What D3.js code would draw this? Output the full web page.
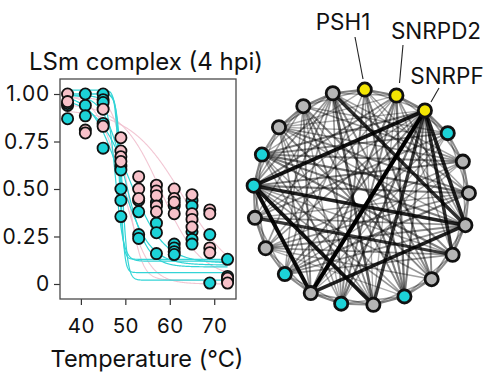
<!DOCTYPE html>
<html><head><meta charset="utf-8">
<script src="https://cdn.jsdelivr.net/npm/d3@7"></script>
<style>
html,body{margin:0;padding:0;background:#fff;}
text{font-family:Inter,"Noto Sans",sans-serif;fill:#111;}
</style></head>
<body><svg id="c" width="488" height="383"></svg>
<script>
// ---------- data ----------
const title = "LSm complex (4 hpi)";
const xTitle = "Temperature (°C)";
const temps = [37, 41, 45, 49, 53, 57, 61, 65, 69, 73];
const xTicks = [40, 50, 60, 70];
const yTicks = [0, 0.25, 0.5, 0.75, 1];
const yTickLabels = ["0", "0.25", "0.50", "0.75", "1.00"];
// measured points per temperature column
const cyanValues = [
  [0.94, 0.87, 0.95],
  [1.00, 0.94, 0.885],
  [1.00, 0.97, 0.955, 0.845, 0.715],
  [0.62, 0.60, 0.50, 0.44, 0.355],
  [0.44, 0.38, 0.26, 0.24],
  [0.43, 0.32, 0.27, 0.16],
  [0.41, 0.21, 0.19, 0.17, 0.155],
  [0.44, 0.41, 0.275, 0.235, 0.21],
  [0.26, 0.005],
  [0.13, 0.04, 0.02]
];
const pinkValues = [
  [1.00, 0.96],
  [0.81, 0.795],
  [0.92, 0.83],
  [0.77, 0.70, 0.67, 0.645],
  [0.565, 0.50, 0.45],
  [0.52, 0.49, 0.465, 0.41, 0.38],
  [0.50, 0.45, 0.43, 0.37],
  [0.47, 0.37, 0.34, 0.30],
  [0.39, 0.37, 0.19, 0.165],
  [0.03, 0.005]
];
// melting-curve fit parameters: [top, bottom, Tm, slope]
const cyanFits = [
  [1.02, 0.13, 48.6, 0.45],
  [1.00, 0.06, 48.9, 0.45],
  [1.00, 0.02, 49.3, 0.6],
  [1.00, 0.10, 49.0, 3.2],
  [1.00, 0.09, 50.0, 2.4],
  [0.98, 0.11, 51.0, 3.8],
  [0.99, 0.12, 47.8, 0.9]
];
const pinkFits = [
  [1.00, 0.00, 49.5, 2.8],
  [0.98, 0.02, 50.5, 1.5],
  [0.92, 0.00, 63.0, 6.0],
  [0.95, 0.03, 58.0, 4.5]
];
// network
const nodeNames = ["PSH1","SNRPD2","SNRPF","","","","","","","","","","","","","","","","","",""];
const nodeGroups = ["y","y","y","c","g","g","g","g","g","c","g","c","g","c","g","g","c","c","g","g","g"];
const labelled = ["PSH1","SNRPD2","SNRPF"];
// edges: [source, target, weight]
const edges = [
  [0,1,0.45],[1,2,0.45],[2,3,0.45],[3,4,0.4],[4,5,0.45],[5,6,0.4],[6,7,0.45],[7,8,0.4],[8,9,0.4],[9,10,0.45],
  [10,11,0.4],[11,12,0.45],[12,13,0.4],[13,14,0.4],[14,15,0.45],[15,16,0.4],[16,17,0.45],[17,18,0.4],[18,19,0.45],[19,20,0.45],[20,0,0.45],
  [0,2,0.3],[1,3,0.3],[2,4,0.35],[3,5,0.3],[4,6,0.3],[5,7,0.3],[6,8,0.35],[7,9,0.3],[8,10,0.3],[9,11,0.3],[10,12,0.35],
  [11,13,0.3],[12,14,0.3],[13,15,0.3],[14,16,0.35],[15,17,0.3],[16,18,0.3],[17,19,0.3],[18,20,0.35],[19,0,0.3],[20,1,0.3],
  [0,8,0.45],[0,11,0.4],[0,13,0.3],[0,9,0.45],[0,10,0.25],[0,5,0.3],[0,6,0.2],[0,17,0.25],
  [1,9,0.5],[1,12,0.45],[1,14,0.3],[1,11,0.4],[1,10,0.25],[1,6,0.35],[1,7,0.3],[1,15,0.25],[1,16,0.4],[1,18,0.25],
  [2,12,1.0],[2,16,0.9],[2,10,0.75],[2,7,0.8],[2,6,0.85],[2,13,0.4],[2,14,0.35],[2,15,0.3],[2,11,0.5],[2,9,0.45],[2,8,0.4],[2,17,0.45],[2,18,0.25],
  [3,15,0.35],[3,13,0.3],[3,17,0.4],[3,12,0.25],[3,11,0.25],[3,18,0.25],[3,19,0.3],
  [4,16,0.45],[4,18,0.35],[4,14,0.3],[4,12,0.25],[4,13,0.3],[4,17,0.4],[4,19,0.35],[4,20,0.3],
  [5,17,0.5],[5,16,0.45],[5,18,0.4],[5,14,0.35],[5,15,0.3],[5,20,0.35],[5,13,0.45],
  [6,16,0.85],[6,12,0.85],[6,20,0.8],[6,14,0.4],[6,15,0.35],[6,17,0.45],[6,18,0.3],[6,13,0.35],
  [7,15,0.75],[7,17,0.45],[7,19,0.4],[7,13,0.35],[7,14,0.35],[7,16,0.3],
  [8,18,0.4],[8,20,0.4],[8,16,0.35],[8,14,0.3],[8,19,0.25],
  [9,19,0.4],[9,20,0.45],[9,16,0.35],[9,17,0.3],[9,14,0.25],
  [10,16,0.9],[10,19,0.4],[10,17,0.35],[10,18,0.3],[10,20,0.6],
  [11,20,0.35],[11,17,0.3],[11,18,0.3],[11,19,0.25],
  [12,16,0.95],[12,18,0.35],[12,19,0.4],
  [13,19,0.3],[13,20,0.35],
  [14,20,0.35],[15,20,0.3],[16,20,0.35],[16,19,0.3]
];

// ---------- drawing ----------
const svg = d3.select("#c");
const plot = {left: 60, right: 236, top: 79, bottom: 299};
const x = d3.scaleLinear().domain([35.3, 74.9]).range([plot.left, plot.right]);
const y = d3.scaleLinear().domain([-0.079, 1.079]).range([plot.bottom, plot.top]);
const colors = {cyan: "#1cd3d8", pink: "#f7c1c9", cyanLine: "#33d4d6", pinkLine: "#f0bccb"};

svg.append("text").attr("x", 146).attr("y", 70).attr("text-anchor", "middle")
  .attr("font-size", 24).text(title);

// axes
const yAxis = d3.axisLeft(y).tickValues(yTicks).tickFormat((d, i) => yTickLabels[i]).tickSize(6).tickPadding(4);
const gy = svg.append("g").attr("transform", `translate(${plot.left},0)`).call(yAxis);
const xAxis = d3.axisBottom(x).tickValues(xTicks).tickSize(6).tickPadding(13);
const gx = svg.append("g").attr("transform", `translate(0,${plot.bottom})`).call(xAxis);
[gx, gy].forEach(g => {
  g.select(".domain").remove();
  g.selectAll(".tick line").attr("stroke", "#333").attr("stroke-width", 1.2);
  g.selectAll(".tick text").attr("fill", "#111")
    .style("font-family", "Inter, 'Noto Sans', sans-serif");
});
gy.selectAll(".tick text").attr("font-size", 21).attr("letter-spacing", 0.8);
gx.selectAll(".tick text").attr("font-size", 20.5).attr("letter-spacing", 0.5);
svg.append("rect").attr("x", plot.left).attr("y", plot.top)
  .attr("width", plot.right - plot.left).attr("height", plot.bottom - plot.top)
  .attr("fill", "none").attr("stroke", "#4a4a4a").attr("stroke-width", 1.3);

svg.append("text").attr("x", 147).attr("y", 367).attr("text-anchor", "middle")
  .attr("font-size", 23.5).text(xTitle);

// fitted curves
const tGrid = d3.range(37, 73.01, 0.1);
const fitLine = p => d3.line().x(t => x(t)).y(t => y(p[1] + (p[0] - p[1]) / (1 + Math.exp((t - p[2]) / p[3]))))(tGrid);
svg.append("clipPath").attr("id", "pc").append("rect")
  .attr("x", plot.left).attr("y", plot.top).attr("width", plot.right - plot.left).attr("height", plot.bottom - plot.top);
const curves = svg.append("g").attr("clip-path", "url(#pc)");
pinkFits.forEach(p => curves.append("path").attr("d", fitLine(p)).attr("fill", "none")
  .attr("stroke", colors.pinkLine).attr("stroke-width", 1.1).attr("opacity", 0.85));
cyanFits.forEach(p => curves.append("path").attr("d", fitLine(p)).attr("fill", "none")
  .attr("stroke", colors.cyanLine).attr("stroke-width", 1.2));

// points
const pts = [];
temps.forEach((t, i) => {
  cyanValues[i].forEach(v => pts.push({t, v, c: colors.cyan}));
  pinkValues[i].forEach(v => pts.push({t, v, c: colors.pink}));
});
svg.append("g").selectAll("circle").data(pts).join("circle")
  .attr("cx", d => x(d.t)).attr("cy", d => y(d.v)).attr("r", 5.6)
  .attr("fill", d => d.c).attr("stroke", "#111").attr("stroke-width", 1.8);

// network
const n = nodeGroups.length;
const cx = 361, cy = 197.5, R = 108;
const angle = d3.scaleLinear().domain([0, n]).range([2 * Math.PI / 180, 2 * Math.PI + 2 * Math.PI / 180]);
const nodes = nodeGroups.map((g, i) => ({i, g, name: nodeNames[i],
  x: cx + R * Math.sin(angle(i)), y: cy - R * Math.cos(angle(i))}));
const wScale = d3.scaleLinear().domain([0, 1]).range([0.4, 4.2]);
const oScale = d3.scaleLinear().domain([0, 1]).range([0.1, 1]);
const gE = svg.append("g");
edges.slice().sort((a, b) => a[2] - b[2]).forEach(e => {
  gE.append("line").attr("x1", nodes[e[0]].x).attr("y1", nodes[e[0]].y)
    .attr("x2", nodes[e[1]].x).attr("y2", nodes[e[1]].y)
    .attr("stroke", "#000").attr("stroke-opacity", oScale(e[2])).attr("stroke-width", wScale(e[2]));
});
const nodeFill = {y: "#f3e503", c: "#1cd3d8", g: "#b5b5b5"};
svg.append("g").selectAll("circle").data(nodes).join("circle")
  .attr("cx", d => d.x).attr("cy", d => d.y).attr("r", 6.6)
  .attr("fill", d => nodeFill[d.g]).attr("stroke", "#111").attr("stroke-width", 2.8);

// labels with leader lines
const labelPos = {PSH1: [343, 30, 355, 37, 363, 79], SNRPD2: [436, 39, 403, 45, 399.5, 83], SNRPF: [447, 84, 439, 88, 431, 102]};
labelled.forEach(name => {
  const p = labelPos[name];
  svg.append("line").attr("x1", p[2]).attr("y1", p[3]).attr("x2", p[4]).attr("y2", p[5])
    .attr("stroke", "#222").attr("stroke-width", 1.1);
  svg.append("text").attr("x", p[0]).attr("y", p[1]).attr("text-anchor", "middle")
    .attr("font-size", 22.5).text(name);
});
</script></body></html>
